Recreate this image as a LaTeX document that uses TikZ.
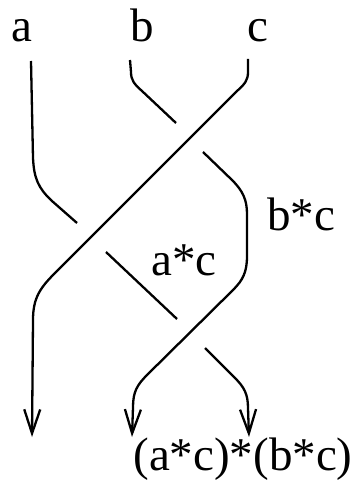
\documentclass[tikz,border=0pt]{standalone}
\usepackage{fontspec}
\setmainfont{Liberation Serif}
\usetikzlibrary{arrows.meta}
\tikzset{
  strand/.style={line width=2.3pt, line cap=butt, line join=round},
  arrowed/.style={strand, -{Straight Barb[length=24pt,width=16pt,line width=2.3pt]}},
  lbl/.style={anchor=base, inner sep=0pt, font=\fontsize{47}{50}\selectfont}
}
\begin{document}
\begin{tikzpicture}[x=1pt,y=-1pt]
\useasboundingbox (0,0) rectangle (356,487);
% labels
\node[lbl] (la) at (22,42) {a};
\node[lbl] (lb) at (142,42) {b};
\node[lbl] (lc) at (258,42) {c};
\node[lbl] (lbc) at (301,230) {b*c};
\node[lbl] (lac) at (184,275) {a*c};
\node[lbl] (lres) at (243,470) {(a*c)*(b*c)};
% coordinates
\coordinate (a0) at (31,61);
\coordinate (a1) at (77,223);
\coordinate (b0) at (130,60);
\coordinate (b1) at (176,123);
\coordinate (c0) at (248,59);
\coordinate (c1) at (32,437);
\coordinate (bc0) at (203,152);
\coordinate (bc1) at (132,437);
\coordinate (ac0) at (106,252);
\coordinate (ac1) at (177,319);
\coordinate (r0) at (205,348);
\coordinate (r1) at (249,437);
% strand a (under)
\draw[strand] (a0) -- (33,158) .. controls (34,178) and (38,188) .. (52,201) -- (a1);
% strand b (under)
\draw[strand] (b0) -- (131,72) .. controls (131,80) and (134,84) .. (142,91) -- (b1);
% strand c (over)
\draw[arrowed] (c0) -- (248,72) .. controls (248,80) and (245,84) .. (237,91) -- (55,273) .. controls (40,288) and (33,298) .. (33,320) -- (c1);
% strand b*c (over at second crossing)
\draw[arrowed] (bc0) -- (232,180) .. controls (243,191) and (247,200) .. (247,214) -- (247,256) .. controls (247,272) and (243,280) .. (233,290) -- (147,375) .. controls (137,385) and (133,392) .. (133,407) -- (bc1);
% strand a*c (under)
\draw[strand] (ac0) -- (ac1);
% result strand
\draw[arrowed] (r0) -- (235,378) .. controls (244,387) and (248,394) .. (248,408) -- (r1);
\end{tikzpicture}
\end{document}
